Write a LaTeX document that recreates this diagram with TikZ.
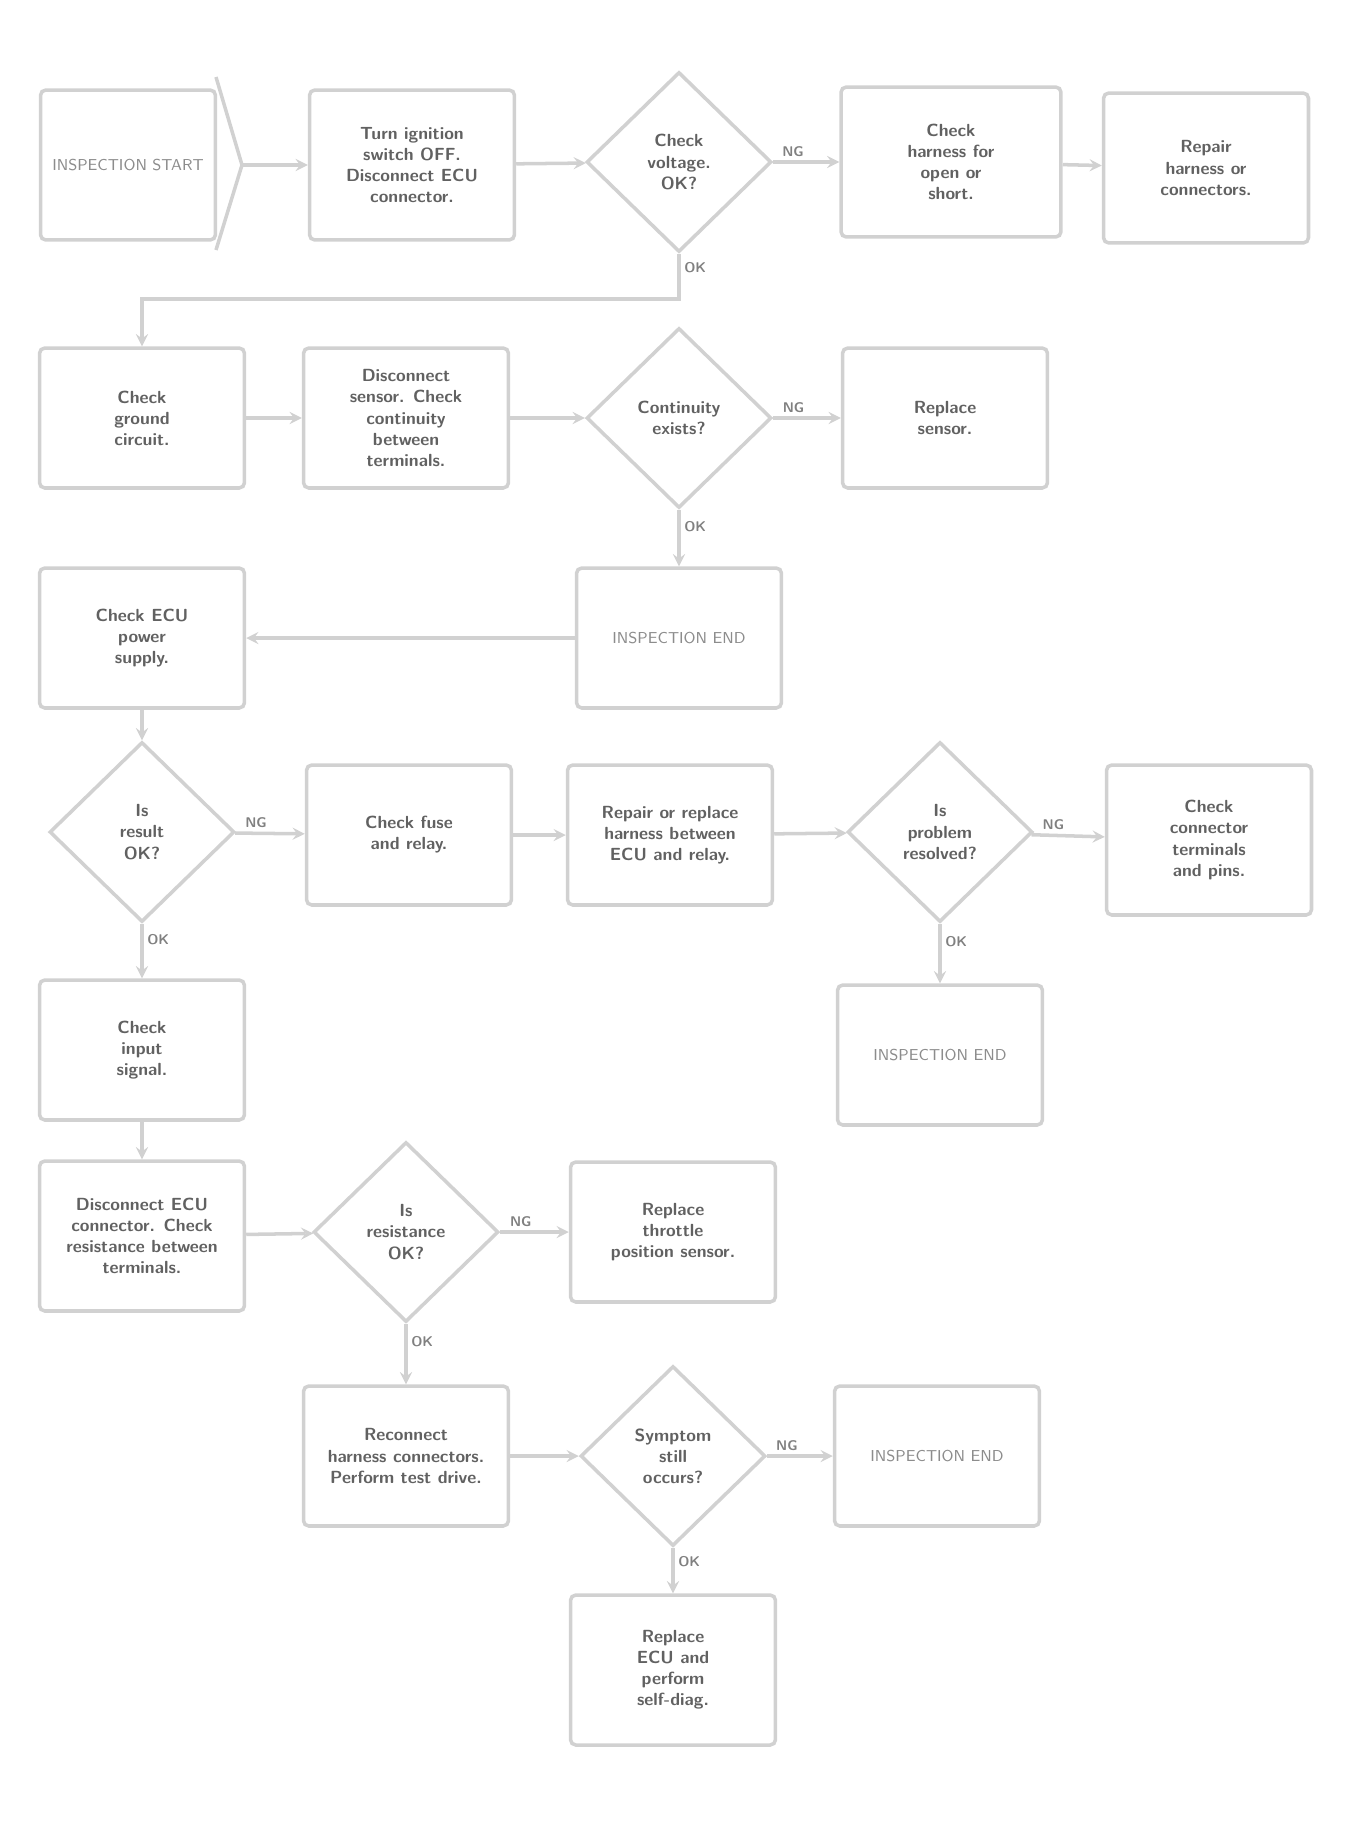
\documentclass[tikz,border=0pt]{standalone}
\usepackage{tikz}
\usetikzlibrary{shapes.geometric}

\begin{document}
\begin{tikzpicture}
  [x=0.02cm,y=-0.02cm,>=stealth,
   box/.style={draw=black!18,line width=2pt,rounded corners=3pt,minimum width=4.1cm,minimum height=2.8cm,align=center,font=\sffamily\bfseries,text=black!62},
   endbox/.style={box,font=\sffamily\small,text=black!45},
   dec/.style={diamond,draw=black!18,line width=2pt,minimum width=3.7cm,minimum height=3.6cm,inner sep=0pt,align=center,font=\sffamily\bfseries,text=black!62},
   lbl/.style={font=\sffamily\bfseries\footnotesize,text=black!50,inner sep=2pt},
   conn/.style={draw=black!18,line width=2pt}]

  \useasboundingbox (0,0) rectangle (1352,1826);

  % row 1
  \node[endbox,minimum width=3.5cm,minimum height=3cm] (b1) at (128,165) {INSPECTION START};
  \coordinate (b1tip) at (242,165);
  \draw[conn] (216,77) -- (b1tip) -- (216,250);
  \node[box,minimum height=3cm] (b2) at (412,165) {Turn ignition\\switch OFF.\\Disconnect ECU\\connector.};
  \node[dec] (d1) at (679,162) {Check\\voltage.\\OK?};
  \node[box,minimum width=4.4cm,minimum height=3cm] (b3) at (951,162) {Check\\harness for\\open or\\short.};
  \node[box,minimum height=3cm] (b4) at (1206,168) {Repair\\harness or\\connectors.};

  % row 2
  \node[box] (b5) at (142,418) {Check\\ground\\circuit.};
  \node[box] (b6) at (406,418) {Disconnect\\sensor. Check\\continuity\\between\\terminals.};
  \node[dec] (d2) at (679,418) {Continuity\\exists?};
  \node[box] (b7) at (945,418) {Replace\\sensor.};

  % row 3
  \node[box] (b8) at (142,638) {Check ECU\\power\\supply.};
  \node[endbox] (b9) at (679,638) {INSPECTION END};

  % row 4
  \node[dec] (d3) at (142,832) {Is\\result\\OK?};
  \node[box] (b10) at (409,835) {Check fuse\\and relay.};
  \node[box] (b11) at (670,835) {Repair or replace\\harness between\\ECU and relay.};
  \node[dec] (d4) at (940,832) {Is\\problem\\resolved?};
  \node[box,minimum height=3cm] (b12) at (1209,840) {Check\\connector\\terminals\\and pins.};

  % row 5
  \node[box] (b13) at (142,1050) {Check\\input\\signal.};
  \node[endbox] (b14) at (940,1055) {INSPECTION END};

  % row 6
  \node[box,minimum height=3cm] (b15) at (142,1236) {Disconnect ECU\\connector. Check\\resistance between\\terminals.};
  \node[dec] (d5) at (406,1232) {Is\\resistance\\OK?};
  \node[box] (b16) at (673,1232) {Replace\\throttle\\position sensor.};

  % row 7
  \node[box] (b17) at (406,1456) {Reconnect\\harness connectors.\\Perform test drive.};
  \node[dec] (d6) at (673,1456) {Symptom\\still\\occurs?};
  \node[endbox] (b18) at (937,1456) {INSPECTION END};

  % row 8
  \node[box,minimum height=3cm] (b19) at (673,1670) {Replace\\ECU and\\perform\\self-diag.};

  \coordinate (c1) at (679,299);
  \draw[conn,->] (b1tip) -- (b2);
  \draw[conn,->] (d1.south) -- node[lbl,right,pos=0.3]{OK} (c1) -| (b5.north);
  \foreach \from/\to in {b2/d1,b3/b4,b5/b6,b6/d2,b9/b8,b8/d3,b10/b11,b11/d4,b13/b15,b15/d5,b17/d6}
    \draw[conn,->] (\from) -- (\to);
  \foreach \from/\to in {d1/b3,d2/b7,d3/b10,d4/b12,d5/b16,d6/b18}
    \draw[conn,->] (\from) -- node[lbl,above,pos=0.3]{NG} (\to);
  \foreach \from/\to in {d2/b9,d3/b13,d4/b14,d5/b17,d6/b19}
    \draw[conn,->] (\from) -- node[lbl,right,pos=0.3]{OK} (\to);
\end{tikzpicture}
\end{document}
